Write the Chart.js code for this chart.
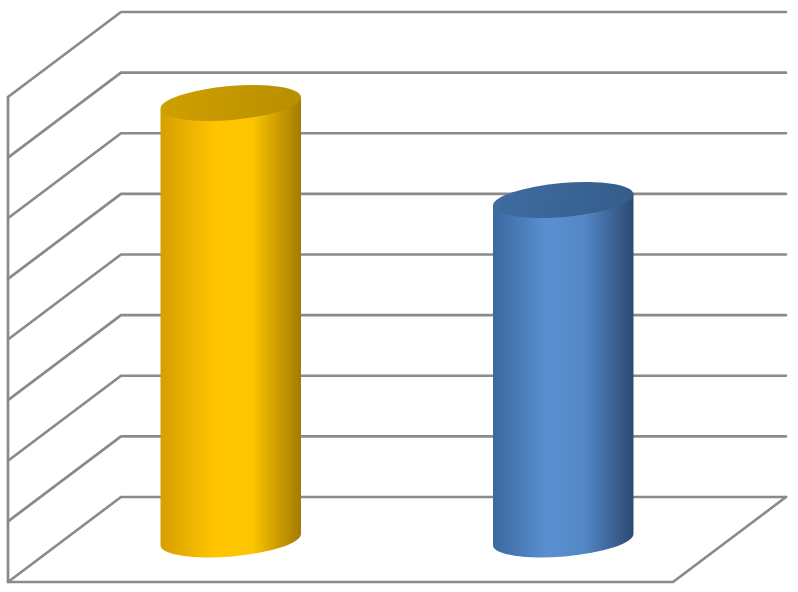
<!DOCTYPE html>
<html>
<head>
<meta charset="utf-8">
<script src="https://cdn.jsdelivr.net/npm/chart.js@4/dist/chart.umd.min.js"></script>
<style>
  html, body { margin: 0; padding: 0; background: #fff; }
  #wrap { width: 798px; height: 592px; }
</style>
</head>
<body>
<div id="wrap"><canvas id="chart"></canvas></div>
<script>
// ── Data ───────────────────────────────────────────────────────────────────
const categories = ['Category 1', 'Category 2'];
const values     = [7.2, 5.6];
const gridTicks  = [0, 1, 2, 3, 4, 5, 6, 7, 8];

// body gradient stops (left edge, highlight, right edge) and cap colour
const BAR_STYLE = [
  { stops: ['#d69e00', '#ffc400', '#fcc500', '#a27a00'], cap: ['#d0a000', '#b88e00'] },
  { stops: ['#3b68a0', '#5a8fd1', '#5387c6', '#2c4a73'], cap: ['#3f6da2', '#345c8a'] },
];

// ── 3D geometry ────────────────────────────────────────────────────────────
const DEPTH_X = -113;   // back wall -> front edge
const DEPTH_Y = 85;
const GRID_COLOR = '#8a8a8a';

const wallPlugin = {
  id: 'walls',
  beforeDatasetsDraw(chart) {
    const { ctx, chartArea: a, scales: { y } } = chart;
    ctx.save();
    ctx.strokeStyle = GRID_COLOR;
    ctx.lineWidth = 2.7;
    ctx.lineJoin = 'round';
    ctx.lineCap = 'round';

    gridTicks.forEach(v => {
      const py = y.getPixelForValue(v);
      ctx.beginPath();
      ctx.moveTo(a.left + DEPTH_X, py + DEPTH_Y);
      ctx.lineTo(a.left, py);
      ctx.lineTo(a.right, py);
      ctx.stroke();
    });

    // left wall front edge + floor front edge + floor right edge
    const top = y.getPixelForValue(gridTicks[gridTicks.length - 1]);
    const bot = y.getPixelForValue(gridTicks[0]);
    ctx.beginPath();
    ctx.moveTo(a.left + DEPTH_X, top + DEPTH_Y);
    ctx.lineTo(a.left + DEPTH_X, bot + DEPTH_Y);
    ctx.lineTo(a.right + DEPTH_X, bot + DEPTH_Y);
    ctx.lineTo(a.right, bot);
    ctx.stroke();
    ctx.restore();
  },
  afterDatasetsDraw(chart) {
    const { ctx } = chart;
    const meta = chart.getDatasetMeta(0);
    const rot = -0.085;
    meta.data.forEach((bar, i) => {
      const st = BAR_STYLE[i];
      const cx = bar.x + DEPTH_X / 2;
      const ty = bar.y + DEPTH_Y / 2;
      const by = bar.base + DEPTH_Y / 2;
      const rx = bar.width / 2;
      const ry = 17;
      const dx = rx * Math.cos(rot), dy = rx * Math.sin(rot);

      ctx.save();
      // body
      const g = ctx.createLinearGradient(cx - rx, 0, cx + rx, 0);
      g.addColorStop(0, st.stops[0]);
      g.addColorStop(0.38, st.stops[1]);
      g.addColorStop(0.65, st.stops[2]);
      g.addColorStop(1, st.stops[3]);
      ctx.fillStyle = g;
      ctx.beginPath();
      ctx.moveTo(cx - dx, ty - dy);
      ctx.lineTo(cx - dx, by - dy);
      ctx.ellipse(cx, by, rx, ry, rot, Math.PI, 0, true);
      ctx.lineTo(cx + dx, ty + dy);
      ctx.closePath();
      ctx.fill();

      // top cap
      const cg = ctx.createLinearGradient(cx - rx, ty - ry, cx + rx, ty + ry);
      cg.addColorStop(0, st.cap[0]);
      cg.addColorStop(1, st.cap[1]);
      ctx.fillStyle = cg;
      ctx.beginPath();
      ctx.ellipse(cx, ty, rx, ry, rot, 0, Math.PI * 2);
      ctx.fill();
      ctx.restore();
    });
  }
};

// ── Chart ──────────────────────────────────────────────────────────────────
new Chart(document.getElementById('chart'), {
  type: 'bar',
  data: {
    labels: categories,
    datasets: [{
      data: values,
      backgroundColor: 'rgba(0,0,0,0)',
      borderWidth: 0,
      categoryPercentage: 1,
      barPercentage: 0.424,
    }],
  },
  options: {
    responsive: true,
    maintainAspectRatio: false,
    animation: false,
    layout: { padding: { left: 121, right: 12, top: 12, bottom: 95 } },
    scales: {
      x: { display: false },
      y: { display: false, min: 0, max: 8 },
    },
    plugins: {
      legend: { display: false },
      tooltip: { enabled: false },
    },
  },
  plugins: [wallPlugin],
});
</script>
</body>
</html>
